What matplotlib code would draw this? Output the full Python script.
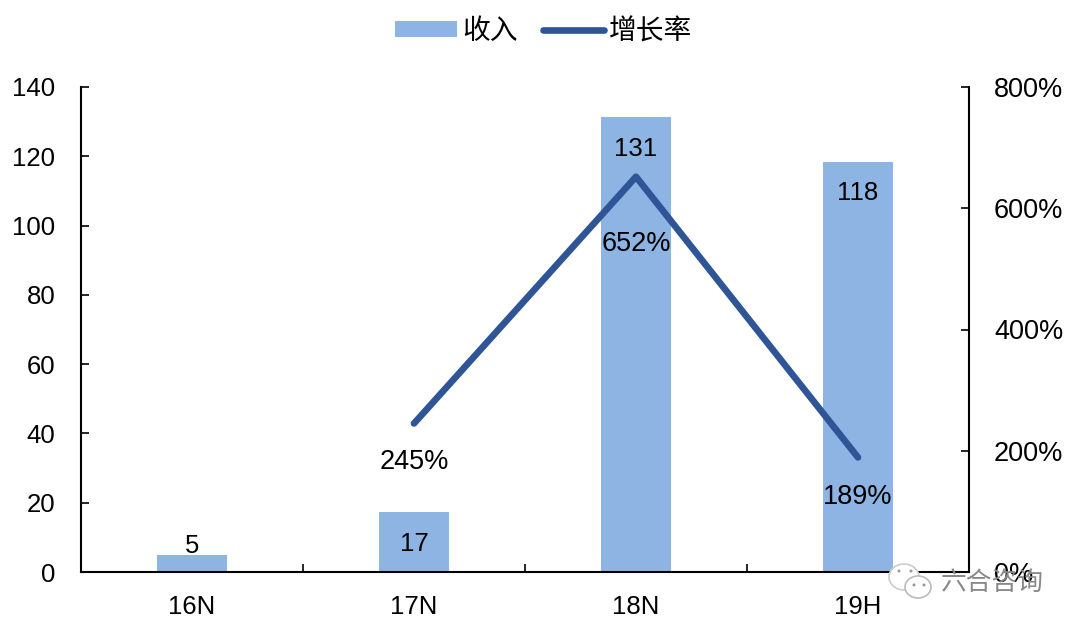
import numpy as np
import matplotlib.pyplot as plt
from matplotlib.patches import Ellipse

plt.rcParams['font.family'] = ['Liberation Sans', 'Noto Sans CJK SC', 'DejaVu Sans']

#数据
cats = ['16N', '17N', '18N', '19H']
income = [5, 17.3, 131.3, 118.3]
income_labels = ['5', '17', '131', '118']
growth = [245, 652, 189]
growth_labels = ['245%', '652%', '189%']

x = np.arange(len(cats))

fig = plt.figure(figsize=(10.8, 6.3), dpi=100)
ax = fig.add_axes([81/1080, 1-572/630, (969-81)/1080, (572-87)/630])
ax.bar(x, income, width=0.315, color='#8EB4E3', label='收入', zorder=2)
ax.set_xlim(-0.5, 3.5)
ax.set_ylim(0, 140)
ax.set_yticks(range(0, 141, 20))
ax.set_xticks(x)
ax.set_xticklabels(cats)
ax.set_xticks(np.arange(-0.5, 3.6, 1), minor=True)
ax.tick_params(axis='x', which='major', length=0, labelsize=18.5, pad=16.5)
ax.tick_params(axis='x', which='minor', length=6, direction='in', width=1.2)
ax.tick_params(axis='y', direction='in', length=5.5, width=1.2, labelsize=18.5, pad=18.5)
ax.spines['top'].set_visible(False)
ax.spines['left'].set_linewidth(1.5)
ax.spines['bottom'].set_linewidth(1.5)
ax.spines['right'].set_visible(False)

ax2 = ax.twinx()
ax2.plot(x[1:], growth, color='#2F5597', linewidth=4.8, solid_capstyle='round', label='增长率', zorder=3)
ax2.set_ylim(0, 800)
ax2.set_yticks(range(0, 801, 200))
ax2.set_yticklabels([str(v) + '%' for v in range(0, 801, 200)])
ax2.tick_params(axis='y', direction='in', length=5.5, width=1.2, labelsize=19.5, pad=18)
for s in ['top', 'left', 'bottom']:
    ax2.spines[s].set_visible(False)
ax2.spines['right'].set_linewidth(1.5)

#数据标签
bar_label_y = [7.5, 8.0, 122, 109.5]
for xi, yi, t in zip(x, bar_label_y, income_labels):
    ax.text(xi, yi, t, ha='center', va='center', fontsize=18.5, zorder=5)
growth_label_y = [182, 541, 124]
for xi, yi, t in zip(x[1:], growth_label_y, growth_labels):
    ax2.text(xi, yi, t, ha='center', va='center', fontsize=19.5, zorder=5)

#图例
h1, l1 = ax.get_legend_handles_labels()
h2, l2 = ax2.get_legend_handles_labels()
fig.legend(h1 + h2, l1 + l2, loc='center', bbox_to_anchor=(544/1080, 1-32/630), ncol=2,
           frameon=False, fontsize=20, handlelength=2.2, handleheight=0.5,
           columnspacing=0.9, handletextpad=0.2)

#水印，用像素坐标
over = fig.add_axes([0, 0, 1, 1], facecolor='none')
over.set_xlim(0, 1080)
over.set_ylim(630, 0)
over.axis('off')
over.add_patch(Ellipse((904, 577), 30, 26, fc='white', ec='#cccccc', lw=1.2))
over.add_patch(Ellipse((918, 587), 26, 22, fc='white', ec='#bbbbbb', lw=1.2))
for ex, ey in [(899, 571), (911, 571), (914, 585), (924, 585)]:
    over.add_patch(Ellipse((ex, ey), 3, 3, fc='#999999', ec='none'))
over.text(1044, 583, '六合咨询', ha='right', va='center', fontsize=18.5, color='#888888')

fig.savefig('out.png', dpi=100)
